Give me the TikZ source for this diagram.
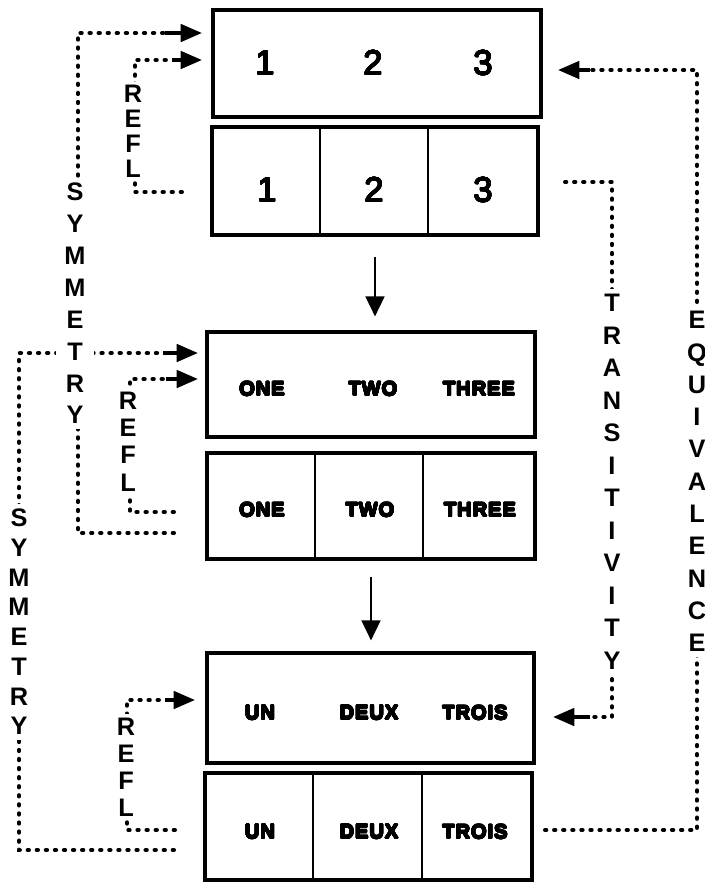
\documentclass[tikz,border=0pt]{standalone}
\usepackage{fontspec}
\setmainfont{Liberation Sans}
\newfontfamily\wordfont[LetterSpace=5]{Liberation Sans}
\usepackage{contour}
\contournumber{24}
\newcommand\hvtext[1]{{\contourlength{0.45pt}\contour{black}{#1}}}
\newcommand\mdtext[1]{{\contourlength{0.3pt}\contour{black}{#1}}}
\usetikzlibrary{arrows.meta,fit,calc}
\tikzset{
 box/.style={draw, line width=2.3pt, inner sep=0pt},
 divider/.style={line width=1.6pt},
 num/.style={font=\fontsize{26}{26}\selectfont, inner sep=0pt},
 word/.style={font=\wordfont\bfseries\fontsize{15}{16}\selectfont, inner sep=0pt},
 dotline/.style={line width=3pt, line cap=round, dash pattern=on 1pt off 5.8pt},
 stem/.style={line width=2.8pt, -{Triangle[length=16pt,width=13pt]}},
 downarrow/.style={line width=1.9pt, -{Triangle[length=15pt,width=14pt]}},
 vlab/.style={fill=white, inner xsep=6pt, inner ysep=4pt, align=center, font=\bfseries\fontsize{19}{#1}\selectfont},
 rlab/.style={fill=white, inner xsep=5pt, inner ysep=2.5pt, align=center, font=\bfseries\fontsize{19}{#1}\selectfont},
}
\begin{document}
\begin{tikzpicture}[x=0.75pt,y=-0.75pt]
\fill[white] (0,0) rectangle (705,886);
\useasboundingbox (0,0) rectangle (705,886);

% boxes
\node[box, fit={(213,10) (541,117)}] (b1) {};
\node[box, fit={(212,127) (538,235)}] (b2) {};
\node[box, fit={(207,332) (535,437)}] (b3) {};
\node[box, fit={(207,453) (535,559)}] (b4) {};
\node[box, fit={(207,653) (534,763)}] (b5) {};
\node[box, fit={(205,773) (532,880)}] (b6) {};

\draw[divider] (320,0 |- b2.north) -- (320,0 |- b2.south);
\draw[divider] (428,0 |- b2.north) -- (428,0 |- b2.south);
\draw[divider] (315,0 |- b4.north) -- (315,0 |- b4.south);
\draw[divider] (423,0 |- b4.north) -- (423,0 |- b4.south);
\draw[divider] (313,0 |- b6.north) -- (313,0 |- b6.south);
\draw[divider] (422,0 |- b6.north) -- (422,0 |- b6.south);

% texts
\node[num] (t11) at (265,63) {\mdtext{1}};
\node[num] (t12) at (373,63) {\mdtext{2}};
\node[num] (t13) at (483,63) {\mdtext{3}};
\node[num] (t21) at (267,190) {\mdtext{1}};
\node[num] (t22) at (374,190) {\mdtext{2}};
\node[num] (t23) at (483,190) {\mdtext{3}};
\node[word] (t31) at (262,389) {\hvtext{ONE}};
\node[word] (t32) at (373,389) {\hvtext{TWO}};
\node[word] (t33) at (479,389) {\hvtext{THREE}};
\node[word] (t41) at (262,510) {\hvtext{ONE}};
\node[word] (t42) at (370,510) {\hvtext{TWO}};
\node[word] (t43) at (480,510) {\hvtext{THREE}};
\node[word] (t51) at (260,713) {\hvtext{UN}};
\node[word] (t52) at (369,713) {\hvtext{DEUX}};
\node[word] (t53) at (475,713) {\hvtext{TROIS}};
\node[word] (t61) at (260,832) {\hvtext{UN}};
\node[word] (t62) at (369,832) {\hvtext{DEUX}};
\node[word] (t63) at (475,832) {\hvtext{TROIS}};

% down arrows
\draw[downarrow] ($(b2.south)+(0,20)$) -- ($(b2.south |- b3.north)+(0,-14)$);
\draw[downarrow] ($(b4.south)+(0,16)$) -- ($(b4.south |- b5.north)+(0,-11)$);

% coordinates for dotted connectors
\coordinate (s1s) at (174,533); \coordinate (s1b) at (78,33);  \coordinate (s1c) at (165,33);  \coordinate (s1t) at (202,33);
\coordinate (s2s) at (174,850); \coordinate (s2b) at (19,353); \coordinate (s2c) at (163,353); \coordinate (s2t) at (198,353);
\coordinate (r1s) at (182,192); \coordinate (r1b) at (135,60); \coordinate (r1c) at (172,60);  \coordinate (r1t) at (202,60);
\coordinate (r2s) at (174,512); \coordinate (r2b) at (130,379); \coordinate (r2c) at (166,379); \coordinate (r2t) at (198,379);
\coordinate (r3s) at (175,830); \coordinate (r3b) at (127,700); \coordinate (r3c) at (165,700); \coordinate (r3t) at (195,700);
\coordinate (tps) at (565,182); \coordinate (tpb) at (612,717); \coordinate (tpc) at (590,717); \coordinate (tpt) at (553,717);
\coordinate (eqs) at (545,830); \coordinate (eqb) at (697,70);  \coordinate (eqc) at (590,70);  \coordinate (eqt) at (558,70);

\draw[dotline] (s1s) -| (s1b) -- (s1c);  \draw[stem] (s1c) -- (s1t);
\draw[dotline] (s2s) -| (s2b) -- (s2c);  \draw[stem] (s2c) -- (s2t);
\draw[dotline] (r1s) -| (r1b) -- (r1c);  \draw[stem] (r1c) -- (r1t);
\draw[dotline] (r2s) -| (r2b) -- (r2c);  \draw[stem] (r2c) -- (r2t);
\draw[dotline] (r3s) -| (r3b) -- (r3c);  \draw[stem] (r3c) -- (r3t);
\draw[dotline] (tps) -| (tpb) -- (tpc);  \draw[stem] (tpc) -- (tpt);
\draw[dotline] (eqs) -| (eqb) -- (eqc);  \draw[stem] (eqc) -- (eqt);

% vertical labels
\node[vlab=23.9pt] (symA) at (75,303.5) {S\\Y\\M\\M\\E\\T\\R\\Y};
\node[vlab=22.3pt] (symB) at (19,622) {S\\Y\\M\\M\\E\\T\\R\\Y};
\node[rlab=18.75pt] (reflA) at (133,131.5) {R\\E\\F\\L};
\node[rlab=20.6pt] (reflB) at (128,441.5) {R\\E\\F\\L};
\node[rlab=20.25pt] (reflC) at (126,767) {R\\E\\F\\L};
\node[vlab=24.4pt] (transA) at (612,481.75) {T\\R\\A\\N\\S\\I\\T\\I\\V\\I\\T\\Y};
\node[vlab=24.2pt] (eqA) at (697,481.5) {E\\Q\\U\\I\\V\\A\\L\\E\\N\\C\\E};
\end{tikzpicture}
\end{document}
